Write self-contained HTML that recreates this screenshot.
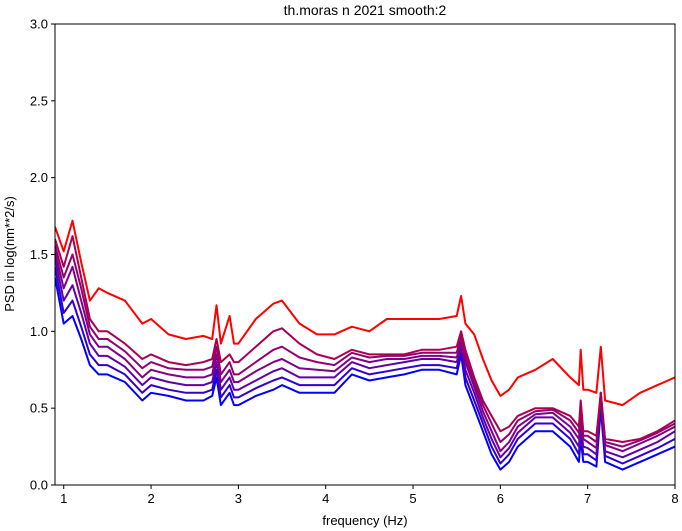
<!DOCTYPE html>
<html><head><meta charset="utf-8"><style>body{margin:0;background:#fff}svg{display:block;font-family:"Liberation Sans","DejaVu Sans",sans-serif}</style></head>
<body>
<svg id="chart" width="682" height="531" viewBox="0 0 682 531" xmlns="http://www.w3.org/2000/svg">
<rect x="0" y="0" width="682" height="531" fill="#fff"/>
<text x="365" y="15" font-size="14" text-anchor="middle">th.moras n 2021 smooth:2</text>
<g id="plot"></g>
<g id="axes"></g>
<text x="365" y="525" font-size="13" text-anchor="middle">frequency (Hz)</text>
<text transform="translate(14,254) rotate(-90)" font-size="13" text-anchor="middle">PSD in log(nm**2/s)</text>
</svg>
<script>
const freqs=[0.9,1.0,1.1,1.2,1.3,1.4,1.5,1.7,1.9,2.0,2.2,2.4,2.6,2.7,2.75,2.8,2.9,2.95,3.0,3.2,3.4,3.5,3.7,3.9,4.1,4.3,4.5,4.7,4.9,5.1,5.3,5.5,5.55,5.6,5.7,5.8,5.9,6.0,6.1,6.2,6.4,6.6,6.8,6.9,6.92,6.95,7.0,7.1,7.15,7.2,7.4,7.6,7.8,8.0];
const s0=[1.68,1.52,1.72,1.45,1.2,1.28,1.25,1.2,1.05,1.08,0.98,0.95,0.97,0.95,1.17,0.92,1.1,0.92,0.92,1.08,1.18,1.2,1.05,0.98,0.98,1.03,1.0,1.08,1.08,1.08,1.08,1.1,1.23,1.05,0.98,0.82,0.68,0.58,0.62,0.7,0.75,0.82,0.7,0.65,0.88,0.62,0.62,0.6,0.9,0.55,0.52,0.6,0.65,0.7];
const s1=[1.6,1.42,1.62,1.35,1.08,1.0,1.0,0.92,0.82,0.85,0.8,0.78,0.8,0.82,0.95,0.8,0.85,0.8,0.8,0.9,1.0,1.02,0.92,0.85,0.82,0.88,0.85,0.85,0.85,0.88,0.88,0.9,1.0,0.88,0.7,0.55,0.45,0.35,0.38,0.45,0.5,0.5,0.45,0.38,0.55,0.35,0.35,0.32,0.6,0.3,0.28,0.3,0.35,0.42];
const s2=[1.56,1.35,1.5,1.28,1.03,0.95,0.95,0.87,0.76,0.8,0.76,0.75,0.75,0.77,0.9,0.72,0.8,0.72,0.72,0.8,0.88,0.9,0.83,0.8,0.78,0.86,0.83,0.84,0.84,0.86,0.86,0.86,0.97,0.84,0.67,0.52,0.4,0.28,0.33,0.42,0.48,0.49,0.42,0.34,0.5,0.32,0.32,0.28,0.6,0.28,0.25,0.29,0.34,0.4];
const s3=[1.52,1.28,1.42,1.2,0.98,0.9,0.9,0.82,0.7,0.75,0.72,0.7,0.7,0.72,0.85,0.67,0.75,0.67,0.67,0.74,0.8,0.82,0.76,0.75,0.74,0.83,0.8,0.82,0.82,0.84,0.84,0.83,0.93,0.8,0.64,0.48,0.35,0.22,0.28,0.38,0.46,0.47,0.38,0.3,0.45,0.3,0.28,0.24,0.6,0.26,0.22,0.27,0.32,0.38];
const s4=[1.48,1.2,1.3,1.12,0.92,0.84,0.84,0.77,0.65,0.7,0.67,0.65,0.65,0.67,0.8,0.62,0.7,0.62,0.62,0.68,0.74,0.76,0.7,0.7,0.7,0.8,0.76,0.78,0.8,0.82,0.82,0.8,0.9,0.75,0.6,0.44,0.3,0.18,0.24,0.34,0.44,0.44,0.34,0.25,0.4,0.25,0.24,0.2,0.58,0.22,0.18,0.23,0.28,0.35];
const s5=[1.42,1.12,1.2,1.03,0.85,0.78,0.78,0.72,0.6,0.65,0.62,0.6,0.6,0.62,0.75,0.57,0.65,0.57,0.57,0.63,0.68,0.7,0.65,0.65,0.65,0.76,0.72,0.74,0.76,0.78,0.78,0.76,0.88,0.7,0.55,0.4,0.25,0.14,0.2,0.3,0.4,0.4,0.3,0.2,0.35,0.2,0.2,0.16,0.55,0.19,0.14,0.19,0.24,0.3];
const s6=[1.35,1.05,1.1,0.95,0.78,0.72,0.72,0.67,0.55,0.6,0.58,0.55,0.55,0.58,0.7,0.52,0.6,0.52,0.52,0.58,0.62,0.65,0.6,0.6,0.6,0.72,0.68,0.7,0.72,0.75,0.75,0.72,0.85,0.65,0.5,0.35,0.2,0.1,0.15,0.25,0.35,0.35,0.25,0.15,0.3,0.15,0.15,0.12,0.5,0.15,0.1,0.15,0.2,0.25];
const xTicks=[1,2,3,4,5,6,7,8];
const yTicks=[0.0,0.5,1.0,1.5,2.0,2.5,3.0];
const series=[s6,s5,s4,s3,s2,s1,s0];
const colors=["#0000ff","#3000d0","#6000a8","#800088","#950070","#aa0050","#ff0000"];
const L=55,R=675,T=24,B=485,X0=0.9,X1=8,Y0=0,Y1=3;
const xs=v=>L+(v-X0)/(X1-X0)*(R-L);
const ys=v=>B-(v-Y0)/(Y1-Y0)*(B-T);
const NS="http://www.w3.org/2000/svg";
const plot=document.getElementById('plot'),axes=document.getElementById('axes');
const clip=document.createElementNS(NS,'clipPath');clip.id='cp';
const cr=document.createElementNS(NS,'rect');cr.setAttribute('x',L);cr.setAttribute('y',T);cr.setAttribute('width',R-L);cr.setAttribute('height',B-T);
clip.appendChild(cr);plot.appendChild(clip);
series.forEach((s,i)=>{
  const p=document.createElementNS(NS,'path');
  const n=Math.min(s.length,freqs.length);
  let d='';for(let k=0;k<n;k++)d+=(k?'L':'M')+xs(freqs[k]).toFixed(1)+','+ys(s[k]).toFixed(1);
  p.setAttribute('d',d);p.setAttribute('fill','none');p.setAttribute('stroke',colors[i]);p.setAttribute('stroke-width','2');p.setAttribute('stroke-linejoin','round');p.setAttribute('clip-path','url(#cp)');
  
  
  plot.appendChild(p);
});
const fr=document.createElementNS(NS,'rect');fr.setAttribute('x',L);fr.setAttribute('y',T);fr.setAttribute('width',R-L);fr.setAttribute('height',B-T);fr.setAttribute('fill','none');fr.setAttribute('stroke','#000');fr.setAttribute('stroke-width','1');


axes.appendChild(fr);
xTicks.forEach(v=>{
  const x=xs(v);const l=document.createElementNS(NS,'line');l.setAttribute('x1',x);l.setAttribute('x2',x);l.setAttribute('y1',B);l.setAttribute('y2',B+4);l.setAttribute('stroke','#000');
  
  
  axes.appendChild(l);
  const t=document.createElementNS(NS,'text');t.setAttribute('x',x);t.setAttribute('y',B+18);t.setAttribute('font-size','13');t.setAttribute('text-anchor','middle');t.textContent=v;
  
  
  axes.appendChild(t);
});
yTicks.forEach(v=>{
  const y=ys(v);const l=document.createElementNS(NS,'line');l.setAttribute('x1',L-4);l.setAttribute('x2',L);l.setAttribute('y1',y);l.setAttribute('y2',y);l.setAttribute('stroke','#000');
  
  
  axes.appendChild(l);
  const t=document.createElementNS(NS,'text');t.setAttribute('x',L-7);t.setAttribute('y',y+4.5);t.setAttribute('font-size','13');t.setAttribute('text-anchor','end');t.textContent=v.toFixed(1);
  
  
  axes.appendChild(t);
});
</script>
</body></html>
